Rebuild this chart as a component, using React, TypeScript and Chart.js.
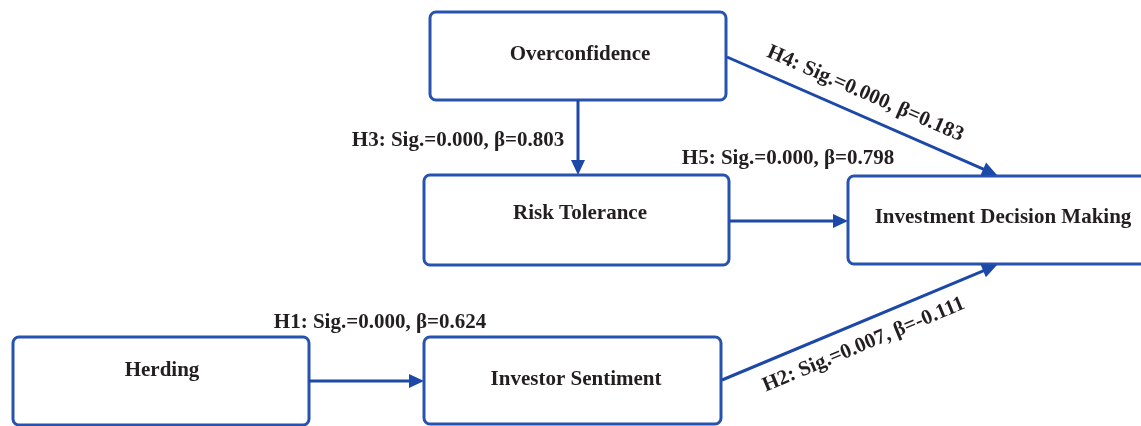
import React, { useEffect, useRef } from "react";
import { Chart, registerables } from "chart.js";

Chart.register(...registerables);

// Nodes of the path model (coordinates in diagram units)
const nodeNames = [
  "Overconfidence",
  "Risk Tolerance",
  "Investment Decision Making",
  "Herding",
  "Investor Sentiment",
];
const nodeLeft = [430, 424, 848, 13, 424];
const nodeTop = [12, 175, 176, 337, 337];
const nodeRight = [726, 729, 1160, 309, 721];
const nodeBottom = [100, 265, 264, 425, 424];
const nodeTextX = [580, 580, 1003, 162, 576];
const nodeTextY = [53, 212, 216, 369, 378];

// Hypothesised paths
const edgeLabels = [
  "H1: Sig.=0.000, β=0.624",
  "H2: Sig.=0.007, β=-0.111",
  "H3: Sig.=0.000, β=0.803",
  "H4: Sig.=0.000, β=0.183",
  "H5: Sig.=0.000, β=0.798",
];
const edgeStartX = [309, 722, 578, 727, 730];
const edgeStartY = [381, 380, 100, 57, 221];
const edgeEndX = [424, 997, 578, 997, 848];
const edgeEndY = [381, 265, 175, 175, 221];
const labelX = [380, 863, 458, 866, 788];
const labelY = [321, 343, 139, 92, 157];

const BOX_COLOR = "#2753b0";
const LINE_COLOR = "#1c48a8";
const TEXT_COLOR = "#231f20";
const FONT = 'bold 21px "Liberation Serif", "Times New Roman", serif';
const TEXT_DY = 2;
const HEAD_LEN = 15;
const HEAD_HALF = 7;

export default function App() {
  const canvasRef = useRef<HTMLCanvasElement | null>(null);

  useEffect(() => {
    const canvas = canvasRef.current;
    if (!canvas) return;

    const datasets = edgeLabels.map((_, i) => {
      const dx = edgeEndX[i] - edgeStartX[i];
      const dy = edgeEndY[i] - edgeStartY[i];
      const len = Math.hypot(dx, dy);
      const ex = edgeEndX[i] - (dx / len) * (HEAD_LEN - 2);
      const ey = edgeEndY[i] - (dy / len) * (HEAD_LEN - 2);
      return {
        label: edgeLabels[i],
        data: [
          { x: edgeStartX[i], y: edgeStartY[i] },
          { x: ex, y: ey },
        ],
        showLine: true,
        borderColor: LINE_COLOR,
        backgroundColor: LINE_COLOR,
        borderWidth: 3,
        pointRadius: 0,
        borderCapStyle: "butt" as const,
      };
    });

    const diagramPlugin = {
      id: "diagram",
      beforeDatasetsDraw(chart: any) {
        const { ctx, scales } = chart;
        const xs = scales.x;
        const ys = scales.y;
        ctx.save();
        nodeNames.forEach((name, i) => {
          const l = xs.getPixelForValue(nodeLeft[i]);
          const r = xs.getPixelForValue(nodeRight[i]);
          const t = ys.getPixelForValue(nodeTop[i]);
          const b = ys.getPixelForValue(nodeBottom[i]);
          ctx.beginPath();
          ctx.roundRect(l, t, r - l, b - t, 6);
          ctx.fillStyle = "#ffffff";
          ctx.fill();
          ctx.lineWidth = 3;
          ctx.strokeStyle = BOX_COLOR;
          ctx.stroke();
          ctx.fillStyle = TEXT_COLOR;
          ctx.font = FONT;
          ctx.textAlign = "center";
          ctx.textBaseline = "middle";
          ctx.fillText(
            name,
            xs.getPixelForValue(nodeTextX[i]),
            ys.getPixelForValue(nodeTextY[i]) + TEXT_DY
          );
        });
        ctx.restore();
      },
      afterDatasetsDraw(chart: any) {
        const { ctx, scales } = chart;
        const xs = scales.x;
        const ys = scales.y;
        ctx.save();
        edgeLabels.forEach((label, i) => {
          const x0 = xs.getPixelForValue(edgeStartX[i]);
          const y0 = ys.getPixelForValue(edgeStartY[i]);
          const x1 = xs.getPixelForValue(edgeEndX[i]);
          const y1 = ys.getPixelForValue(edgeEndY[i]);
          const ang = Math.atan2(y1 - y0, x1 - x0);
          // arrow head
          ctx.save();
          ctx.translate(x1, y1);
          ctx.rotate(ang);
          ctx.beginPath();
          ctx.moveTo(0, 0);
          ctx.lineTo(-HEAD_LEN, -HEAD_HALF);
          ctx.lineTo(-HEAD_LEN, HEAD_HALF);
          ctx.closePath();
          ctx.fillStyle = LINE_COLOR;
          ctx.fill();
          ctx.restore();
          // label
          let textAng = 0;
          if (Math.abs(x1 - x0) > 1e-6 && Math.abs(y1 - y0) > 1e-6) textAng = ang;
          ctx.save();
          ctx.translate(xs.getPixelForValue(labelX[i]), ys.getPixelForValue(labelY[i]));
          ctx.rotate(textAng);
          ctx.fillStyle = TEXT_COLOR;
          ctx.font = FONT;
          ctx.textAlign = "center";
          ctx.textBaseline = "middle";
          ctx.fillText(label, 0, TEXT_DY);
          ctx.restore();
        });
        ctx.restore();
      },
    };

    const chart = new Chart(canvas, {
      type: "scatter",
      data: { datasets },
      options: {
        animation: false,
        responsive: true,
        maintainAspectRatio: false,
        layout: { padding: 0 },
        scales: {
          x: { type: "linear", min: 0, max: 1141, display: false },
          y: { type: "linear", min: 0, max: 426, reverse: true, display: false },
        },
        plugins: {
          legend: { display: false },
          tooltip: { enabled: false },
        },
      },
      plugins: [diagramPlugin],
    });

    return () => chart.destroy();
  }, []);

  return (
    <div
      style={{
        position: "fixed",
        left: 0,
        top: 0,
        width: 1141,
        height: 426,
        background: "#ffffff",
      }}
    >
      <canvas ref={canvasRef} />
    </div>
  );
}
